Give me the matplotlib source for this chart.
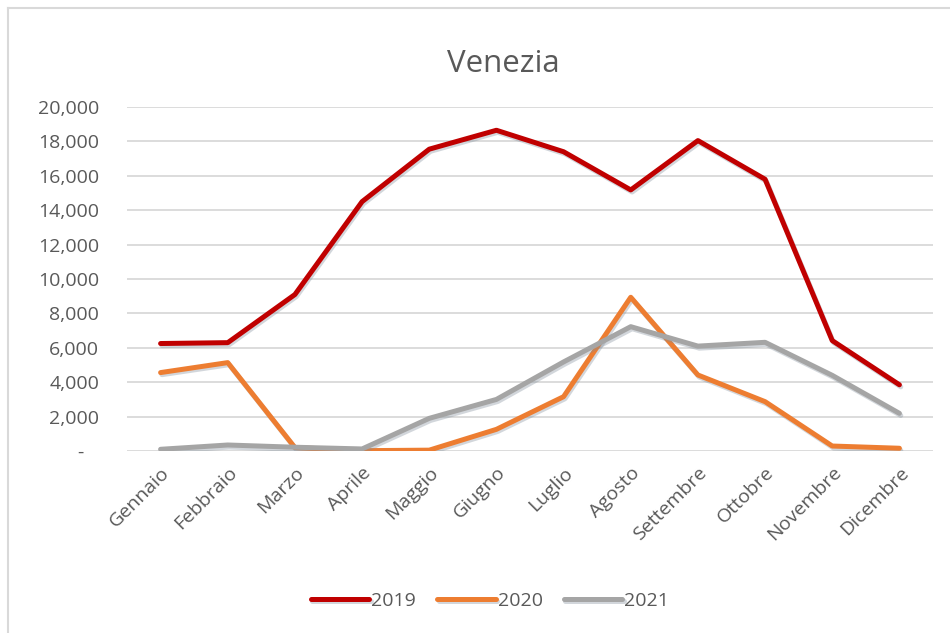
import matplotlib
matplotlib.use("Agg")
import matplotlib.pyplot as plt
import matplotlib.patheffects as pe
from matplotlib.lines import Line2D
from matplotlib.ticker import FuncFormatter

mesi = ["Gennaio", "Febbraio", "Marzo", "Aprile", "Maggio", "Giugno",
        "Luglio", "Agosto", "Settembre", "Ottobre", "Novembre", "Dicembre"]
v2019 = [6250, 6300, 9100, 14500, 17550, 18650, 17400, 15180, 18050, 15800, 6420, 3850]
v2020 = [4560, 5140, 200, 20, 50, 1260, 3160, 8940, 4420, 2870, 290, 160]
v2021 = [100, 350, 220, 120, 1900, 3000, 5180, 7230, 6100, 6320, 4400, 2190]
anni = ["2019", "2020", "2021"]
colori = ["#c00000", "#ed7d31", "#a5a5a5"]

testo = "#595959"
plt.rcParams["font.family"] = ["Open Sans", "DejaVu Sans"]

fig = plt.figure(figsize=(9.5, 6.33), dpi=100)
ax = fig.add_axes([0.1337, 0.2875, 0.8484, 0.5434])

x = list(range(len(mesi)))
ombra = [pe.SimpleLineShadow(offset=(1, -1.5), shadow_color="#7f8c99", alpha=0.35), pe.Normal()]
for serie, nome, col in zip([v2019, v2020, v2021], anni, colori):
    ax.plot(x, serie, color=col, lw=3.6, label=nome, solid_capstyle="round",
            solid_joinstyle="round", path_effects=ombra)

ax.set_xlim(-0.5, len(mesi) - 0.5)
ax.set_ylim(0, 20000)
ax.set_yticks(range(0, 20001, 2000))
ax.yaxis.set_major_formatter(FuncFormatter(lambda v, p: "-   " if v == 0 else f"{int(v):,}"))
ax.set_xticks(x)
ax.set_xticklabels(mesi, rotation=45, ha="right", va="top", rotation_mode="anchor")
ax.tick_params(axis="both", length=0, labelsize=14, labelcolor=testo)
ax.tick_params(axis="y", pad=20)
ax.tick_params(axis="x", pad=9)
ax.grid(axis="y", color="#d9d9d9", lw=1.3)
ax.set_axisbelow(True)
for s in ax.spines.values():
    s.set_visible(False)

fig.text(503 / 950, 1 - 64 / 633, "Venezia", ha="center", va="center",
         fontsize=22.5, color=testo)

fig.legend(loc="center", bbox_to_anchor=(490 / 950, 1 - 601 / 633), ncol=3,
           frameon=False, fontsize=14, labelcolor=testo, handlelength=3.0,
           handletextpad=0.1, columnspacing=1.1)

# bordo del grafico
fig.add_artist(Line2D([8 / 950, 8 / 950], [0, 1 - 8 / 633], color="#d9d9d9", lw=1.5))
fig.add_artist(Line2D([8 / 950, 1], [1 - 8 / 633, 1 - 8 / 633], color="#d9d9d9", lw=1.5))

fig.savefig("out.png", dpi=100)
